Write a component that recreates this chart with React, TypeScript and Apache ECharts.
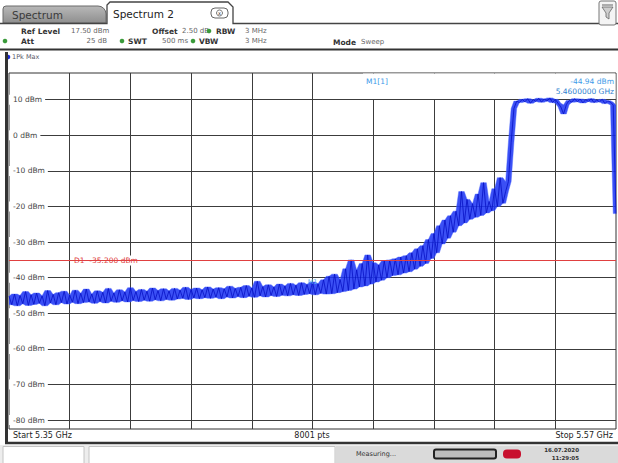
import React, { useEffect, useRef } from "react";
import * as echarts from "echarts";

// ---- data ----
const START_GHZ = 5.35;
const STOP_GHZ = 5.57;
const STEP_GHZ = 0.001;
const REF_LEVEL = 17.5;
const BOTTOM_LEVEL = -82.5;
const Y_TICKS = [10, 0, -10, -20, -30, -40, -50, -60, -70, -80];
const X_TICKS = [5.372, 5.394, 5.416, 5.438, 5.46, 5.482, 5.504, 5.526, 5.548];
const D1_LEVEL = -35.2;
const MARKER_FREQ = 5.46;
const MARKER_LEVEL = -44.94;
const TRACE_DBM = [
  -45.2, -47.6, -44.6, -47.9, -45.0, -47.3, -43.9, -47.8, -44.8, -47.5,
  -44.3, -47.2, -45.1, -47.9, -43.6, -47.1, -44.7, -47.6, -44.2, -47.0,
  -43.8, -47.4, -44.9, -46.9, -43.5, -47.3, -44.4, -47.0, -43.2, -46.8,
  -44.6, -47.2, -43.7, -46.7, -44.1, -47.1, -43.0, -46.6, -44.3, -46.9,
  -43.4, -46.5, -44.0, -46.8, -42.8, -46.4, -43.9, -46.7, -43.3, -46.3,
  -43.8, -46.6, -42.9, -46.2, -43.6, -46.5, -43.1, -46.1, -43.7, -46.3,
  -43.0, -46.0, -43.5, -45.8, -42.7, -46.1, -43.3, -45.7, -42.9, -45.9,
  -43.4, -45.6, -42.6, -45.8, -43.2, -45.5, -42.8, -45.9, -43.1, -45.4,
  -42.4, -45.7, -43.0, -45.3, -42.7, -45.6, -42.2, -45.2, -42.9, -45.5,
  -41.0, -45.1, -42.5, -45.4, -42.0, -45.0, -42.6, -45.3, -41.8, -44.9,
  -42.3, -45.1, -41.6, -44.8, -42.1, -45.0,
  -41.4, -44.7, -41.9, -44.5, -41.2, -44.8, -41.7, -44.4, -40.6, -44.6,
  -39.6, -44.5, -39.0, -44.2, -40.5, -43.9, -37.5, -43.6, -35.0, -43.2,
  -37.8, -42.6, -36.0, -42.3, -33.6, -41.8, -35.8, -41.2, -36.4, -40.7,
  -35.3, -40.0, -35.0, -39.4, -34.7, -39.2, -34.2, -38.7, -33.8, -38.3,
  -33.0, -37.6, -31.9, -36.8, -31.0, -36.0, -29.3, -34.6, -27.6, -33.0,
  -25.4, -30.5, -23.8, -28.9, -22.6, -27.2, -21.3,
  -25.4, -15.8, -24.6, -18.0, -23.6, -19.2, -23.0, -16.5, -22.5, -13.3,
  -21.8, -18.6, -21.2, -15.0, -20.0, -11.9, -19.1, -15.8,
  -13.0, -2.0, 7.5, 9.6,
  9.2, 10.1, 9.4, 10.3, 9.0, 10.0, 9.5, 10.4, 9.3, 10.2,
  9.6, 10.5, 9.2, 10.1, 9.0, 8.0, 6.0, 8.6, 9.8, 9.3,
  10.3, 9.4, 10.2, 9.1, 10.0, 9.5, 10.3, 9.2, 9.9, 9.4,
  10.1, 8.9, 9.7, 9.3,
  8.5, -22.0,
];

const FONT = "DejaVu Sans";

function txt(x: number, y: number, text: string, opts: any = {}) {
  return {
    type: "text",
    x,
    y,
    z: opts.z ?? 5,
    style: {
      text,
      fontFamily: FONT,
      fontSize: opts.size ?? 8,
      fontWeight: opts.bold ? "bold" : "normal",
      fill: opts.color ?? "#333",
      align: opts.align ?? "left",
      verticalAlign: "middle",
      backgroundColor: opts.bg,
      padding: opts.padding,
    },
  };
}

function dot(x: number, y: number, color = "#3a9a3a") {
  return { type: "circle", z: 5, shape: { cx: x, cy: y, r: 2.3 }, style: { fill: color } };
}

function hline(x1: number, x2: number, y: number, color: string, w: number) {
  return { type: "line", z: 5, shape: { x1, y1: y, x2, y2: y }, style: { stroke: color, lineWidth: w } };
}

const L = { bold: true, color: "#333", size: 7.5 };
const V = { color: "#666", size: 7 };

const staticGraphics: any[] = [
  // tabs
  {
    type: "rect", z: 5,
    shape: { x: 3, y: 6, width: 103, height: 17, r: [3, 8, 0, 0] },
    style: {
      fill: new echarts.graphic.LinearGradient(0, 0, 0, 1, [
        { offset: 0, color: "#b8b8b8" },
        { offset: 1, color: "#8f8f8f" },
      ]),
      stroke: "#6a6a6a",
      lineWidth: 1,
    },
  },
  txt(12, 15, "Spectrum", { size: 10.5, color: "#3a3a3a" }),
  {
    type: "polyline", z: 5,
    shape: { points: [[0, 23.5], [107, 23.5], [107, 5], [110, 2], [228, 2], [233, 7], [233, 23.5], [618, 23.5]] },
    style: { stroke: "#444", lineWidth: 1.3, fill: null },
  },
  txt(113, 14, "Spectrum 2", { size: 10.5, color: "#222" }),
  {
    type: "rect", z: 5,
    shape: { x: 211, y: 8, width: 17, height: 10, r: 4 },
    style: { fill: "#fff", stroke: "#666", lineWidth: 1 },
  },
  { type: "circle", z: 5, shape: { cx: 219.5, cy: 13, r: 3 }, style: { fill: "none", stroke: "#555", lineWidth: 0.8 } },
  txt(219.5, 13, "x", { size: 5, align: "center", color: "#333" }),
  // top right icon
  {
    type: "rect", z: 5,
    shape: { x: 599, y: 1, width: 17, height: 24, r: 2 },
    style: { fill: "#f4f4f4", stroke: "#777", lineWidth: 1 },
  },
  { type: "polygon", z: 5, shape: { points: [[602, 7], [613, 7], [609, 13], [609, 19], [606, 17], [606, 13]] }, style: { fill: "#cfcfcf", stroke: "#666", lineWidth: 0.8 } },
  hline(602, 613, 5, "#666", 1),
  // info rows
  txt(21, 31, "Ref Level", L),
  txt(71, 31, "17.50 dBm", V),
  txt(152, 31, "Offset", L),
  txt(182, 31, "2.50 dB", V),
  dot(209, 31),
  txt(216, 31, "RBW", L),
  txt(245, 31, "3 MHz", V),
  dot(5, 41),
  txt(21, 41, "Att", L),
  txt(107, 41, "25 dB", { ...V, align: "right" }),
  dot(122, 41),
  txt(128, 41, "SWT", L),
  txt(162, 41, "500 ms", V),
  dot(193, 41),
  txt(199, 41, "VBW", L),
  txt(245, 41, "3 MHz", V),
  txt(333, 42, "Mode", L),
  txt(361, 42, "Sweep", V),
  hline(0, 618, 49.5, "#333", 2),
  // window header
  dot(8, 57, "#1a2ad8"),
  txt(12, 57, "1Pk Max", { size: 6.5, color: "#556" }),
  // left frame bar
  { type: "rect", z: 5, shape: { x: 5, y: 52, width: 3, height: 391 }, style: { fill: "#333" } },
  // marker field box (covers grid)
  { type: "rect", z: 1, shape: { x: 363, y: 73.5, width: 252.5, height: 25.5 }, style: { fill: "#fff" } },
  txt(366, 81, "M1[1]", { size: 7.5, color: "#3d9be9" }),
  txt(614, 81, "-44.94 dBm", { size: 7.5, color: "#3d9be9", align: "right" }),
  txt(614, 91, "5.4600000 GHz", { size: 7.5, color: "#2f7fd0", align: "right" }),
  // bottom labels
  txt(13, 435, "Start 5.35 GHz", { size: 8, color: "#222" }),
  txt(312, 435, "8001 pts", { size: 8, color: "#222", align: "center" }),
  txt(613, 435, "Stop 5.57 GHz", { size: 8, color: "#222", align: "right" }),
  hline(5, 618, 443, "#333", 2.5),
  // status bar
  { type: "rect", z: 4, shape: { x: 0, y: 445, width: 618, height: 18 }, style: { fill: "#ededed" } },
  { type: "rect", z: 5, shape: { x: 3, y: 446.5, width: 81, height: 17 }, style: { fill: "#fff", stroke: "#c4c4c4", lineWidth: 1 } },
  { type: "rect", z: 5, shape: { x: 89, y: 446.5, width: 246, height: 17 }, style: { fill: "#fff", stroke: "#c4c4c4", lineWidth: 1 } },
  { type: "rect", z: 5, shape: { x: 336, y: 446, width: 282, height: 17 }, style: { fill: "#dadada" } },
  txt(356, 454, "Measuring...", { size: 6.5, color: "#333" }),
  { type: "rect", z: 5, shape: { x: 434, y: 449.5, width: 62, height: 9, r: 2 }, style: { fill: "#bdbdbd", stroke: "#222", lineWidth: 2 } },
  { type: "rect", z: 5, shape: { x: 503, y: 449.5, width: 18, height: 9, r: 4 }, style: { fill: "#c8102e" } },
  txt(579, 450, "16.07.2020", { size: 5.5, bold: true, color: "#333", align: "right" }),
  txt(579, 458, "11:29:05", { size: 5.5, bold: true, color: "#333", align: "right" }),
];

const gridLineStyle = { color: "#3c3c3c", width: 1 };

export default function App() {
  const ref = useRef<HTMLDivElement>(null);
  useEffect(() => {
    if (!ref.current) return;
    const chart = echarts.init(ref.current, undefined, { renderer: "svg" });
    const n = TRACE_DBM.length;
    const freqs = TRACE_DBM.map((_, i) => START_GHZ + i * STEP_GHZ);
    const data = TRACE_DBM.map((v, i) => [freqs[i], v]);
    // envelope of the displayed trace (min / max of neighbouring sweep points)
    const nb = (i: number) => [TRACE_DBM[Math.max(0, i - 1)], TRACE_DBM[i], TRACE_DBM[Math.min(n - 1, i + 1)]];
    const lo = TRACE_DBM.map((_, i) => Math.min(...nb(i)));
    const hi = TRACE_DBM.map((_, i) => Math.max(...nb(i)));
    const option: any = {
      animation: false,
      backgroundColor: "#fff",
      grid: { left: 9, right: 2, top: 73, bottom: 34, show: true, borderColor: "#333", borderWidth: 1, containLabel: false },
      xAxis: {
        type: "value",
        min: START_GHZ,
        max: STOP_GHZ,
        axisLine: { show: false },
        axisTick: { show: false, customValues: X_TICKS },
        axisLabel: { show: false, customValues: X_TICKS },
        splitLine: { show: true, lineStyle: gridLineStyle },
      },
      yAxis: {
        type: "value",
        min: BOTTOM_LEVEL,
        max: REF_LEVEL,
        axisLine: { show: false },
        axisTick: { show: false, customValues: Y_TICKS },
        axisLabel: {
          show: true,
          inside: true,
          margin: 0,
          customValues: Y_TICKS,
          formatter: (v: number) => `${v} dBm`,
          fontFamily: FONT,
          fontSize: 7.5,
          color: "#444",
          backgroundColor: "#fff",
          padding: [1, 3, 1, 4],
        },
        splitLine: { show: true, lineStyle: gridLineStyle },
      },
      series: [
        {
          type: "custom",
          z: 2,
          silent: true,
          clip: true,
          data: [[START_GHZ, 0]],
          renderItem: (_params: any, api: any) => {
            const pts: number[][] = [];
            for (let i = 0; i < n; i++) pts.push(api.coord([freqs[i], hi[i]]));
            for (let i = n - 1; i >= 0; i--) pts.push(api.coord([freqs[i], lo[i]]));
            return {
              type: "polygon",
              shape: { points: pts },
              style: { fill: "#2038f4", stroke: "#4a66ff", lineWidth: 0.5, opacity: 0.88 },
            };
          },
        },
        {
          type: "line",
          data,
          showSymbol: false,
          symbol: "none",
          z: 3,
          lineStyle: { color: "#0812c4", width: 0.8 },
          markLine: {
            silent: true,
            symbol: "none",
            label: { show: false },
            lineStyle: { color: "#e04040", width: 1, type: "solid" },
            data: [{ yAxis: D1_LEVEL }],
          },
        },
      ],
      graphic: staticGraphics,
    };
    chart.setOption(option);
    const d1 = chart.convertToPixel({ gridIndex: 0 }, [START_GHZ, D1_LEVEL]) as number[];
    const m1 = chart.convertToPixel({ gridIndex: 0 }, [MARKER_FREQ, MARKER_LEVEL]) as number[];
    chart.setOption({
      graphic: [
        ...staticGraphics,
        txt(72, d1[1], `D1  ${D1_LEVEL.toFixed(3)} dBm`, { size: 7.5, color: "#e04040", bg: "#fff", padding: [1, 3, 1, 2] }),
        txt(m1[0], m1[1] - 13, "M1", { size: 6.5, color: "#59b0f0", align: "center", z: 6 }),
      ],
    });
    return () => chart.dispose();
  }, []);
  return <div ref={ref} style={{ position: "absolute", left: 0, top: 0, width: 618, height: 463 }} />;
}
